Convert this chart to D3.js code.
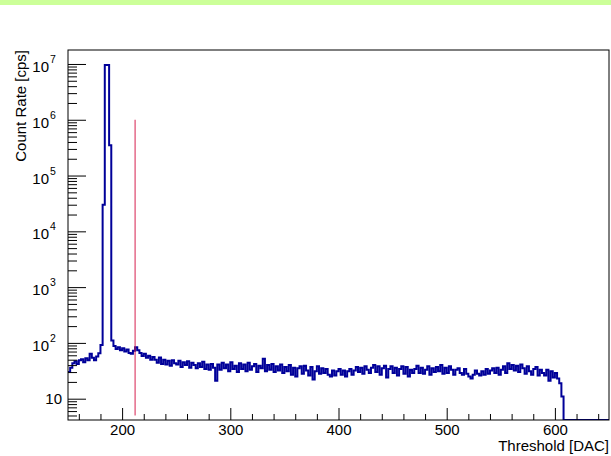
<!DOCTYPE html>
<html>
<head>
<meta charset="utf-8">
<script src="https://cdn.jsdelivr.net/npm/d3@7"></script>
<style>
  body { margin: 0; background: #fff; }
  svg { display: block; font-family: "Liberation Sans", Arial, sans-serif; }
</style>
</head>
<body>
<svg id="chart" width="611" height="456"></svg>
<script>
// threshold scan, bins of 2 DAC starting at 150
var binLow = 150;
var binWidth = 2;
var counts = [
  30, 36, 43, 47, 42, 49, 51, 45, 53, 49, 64, 54, 49, 57, 65, 92,
  30000, 9600000, 9600000, 350000, 110,
  88, 78, 84, 74, 80, 70, 76, 66, 64, 72, 84, 74, 66, 58, 64, 54, 59, 50, 56,
  50, 44, 55, 42, 50, 41, 48, 39, 49, 43,
  41, 48, 37, 45, 40, 47, 36, 44, 40, 35,
  43, 37, 46, 34, 41, 33, 42, 36, 21, 41,
  33, 44, 35, 41, 31, 45, 34, 39, 30, 43,
  34, 41, 31, 44, 33, 38, 42, 30, 39, 35,
  52, 31, 40, 33, 42, 30, 38, 32, 41, 29,
  37, 31, 40, 27, 36, 25, 35, 38, 28, 39,
  32, 26, 37, 22, 31, 38, 28, 35, 29, 34,
  27, 25, 32, 26, 31, 34, 27, 32, 25, 31,
  34, 27, 32, 37, 30, 36, 28, 38, 33, 29,
  36, 40, 30, 38, 27, 35, 39, 24, 34, 38,
  29, 36, 26, 34, 38, 28, 37, 25, 33, 29,
  34, 39, 29, 36, 28, 33, 38, 27, 35, 30,
  37, 31, 40, 28, 36, 29, 38, 33, 27, 33,
  35, 29, 27, 34, 28, 25, 23, 27, 32, 28,
  26, 31, 27, 34, 28, 32, 35, 29, 36, 27,
  33, 38, 29, 43, 34, 40, 32, 39, 30, 41,
  35, 28, 38, 31, 27, 34, 37, 26, 33, 29,
  26, 33, 21, 31, 24, 29, 23, 19, 11, 0,
  0, 0, 0, 0, 0, 0, 0, 0, 0, 0,
  0, 0, 0, 0, 0, 0, 0, 0, 0, 0
];
var thresholdCut = 212;        // red marker
var cutRange = [5, 1e6];
var xMajor = [200, 300, 400, 500, 600];
var yMajor = [10, 100, 1e3, 1e4, 1e5, 1e6, 1e7];
var yExp = ["", "2", "3", "4", "5", "6", "7"];
var xTitle = "Threshold [DAC]";
var yTitle = "Count Rate [cps]";

var svg = d3.select("#chart");
var padL = 68, padR = 609, padT = 50, padB = 420;

svg.append("rect").attr("x", 0).attr("y", 0).attr("width", 611).attr("height", 5)
    .attr("fill", "#ccff99");

var x = d3.scaleLinear().domain([150, 650]).range([padL, padR]);
var y = d3.scaleLog().domain([4.15, 1.78e7]).range([padB, padT]);
var yMin = y.domain()[0];

svg.append("clipPath").attr("id", "frameClip")
  .append("rect").attr("x", padL).attr("y", padT)
    .attr("width", padR - padL).attr("height", padB - padT);

// histogram as steps
var pts = counts.map(function(c, i) { return [binLow + i * binWidth, c]; });
pts.push([binLow + counts.length * binWidth, counts[counts.length - 1]]);
var step = d3.line()
    .x(function(d) { return x(d[0]); })
    .y(function(d) { return d[1] > yMin ? y(d[1]) : padB; })
    .curve(d3.curveStepAfter);

svg.append("path")
    .attr("d", step(pts))
    .attr("clip-path", "url(#frameClip)")
    .attr("fill", "none")
    .attr("stroke", "#000099")
    .attr("stroke-width", 2)
    .attr("stroke-linejoin", "miter");

svg.append("line")
    .attr("x1", x(thresholdCut)).attr("x2", x(thresholdCut))
    .attr("y1", y(cutRange[0])).attr("y2", y(cutRange[1]))
    .attr("stroke", "#d6204f").attr("stroke-width", 1);

// x axis ticks (inside)
var xMinor = d3.range(160, 650, 20).filter(function(v) { return xMajor.indexOf(v) < 0; });
var gx = svg.append("g").attr("transform", "translate(0," + padB + ")");
gx.append("g").call(d3.axisBottom(x).tickValues(xMinor).tickSize(-6).tickFormat(""));
gx.append("g").call(d3.axisBottom(x).tickValues(xMajor).tickSize(-12).tickFormat(d3.format("d")));
gx.selectAll(".domain").remove();
gx.selectAll(".tick line").attr("stroke", "#000");
gx.selectAll("text").attr("y", 4).attr("dy", "0.71em")
    .style("font-size", "15px").attr("fill", "#000");

// y axis ticks (inside)
var yMinorVals = [];
[1, 10, 100, 1e3, 1e4, 1e5, 1e6, 1e7].forEach(function(dec) {
  for (var k = 2; k <= 9; k++) {
    var v = dec * k;
    if (v >= y.domain()[0] && v <= y.domain()[1]) yMinorVals.push(v);
  }
});
var gy = svg.append("g").attr("transform", "translate(" + padL + ",0)");
gy.append("g").call(d3.axisLeft(y).tickValues(yMinorVals).tickSize(-9).tickFormat(""));
gy.append("g").call(d3.axisLeft(y).tickValues(yMajor).tickSize(-18).tickFormat(""));
gy.selectAll(".domain").remove();
gy.selectAll(".tick line").attr("stroke", "#000");

yMajor.forEach(function(v, i) {
  var ty = y(v);
  if (yExp[i] === "") {
    svg.append("text").attr("x", 62).attr("y", ty + 5.5)
      .attr("text-anchor", "end").style("font-size", "15px").text("10");
  } else {
    svg.append("text").attr("x", 49).attr("y", ty + 8)
      .attr("text-anchor", "end").style("font-size", "15px").text("10");
    svg.append("text").attr("x", 50).attr("y", ty - 1)
      .attr("text-anchor", "start").style("font-size", "10.5px").text(yExp[i]);
  }
});

// frame
svg.append("rect")
    .attr("x", padL).attr("y", padT)
    .attr("width", padR - padL).attr("height", padB - padT)
    .attr("fill", "none").attr("stroke", "#000").attr("stroke-width", 1);

svg.append("text")
    .attr("x", padR).attr("y", 451)
    .attr("text-anchor", "end").style("font-size", "15px")
    .text(xTitle);

svg.append("text")
    .attr("transform", "translate(26," + padT + ") rotate(-90)")
    .attr("text-anchor", "end").style("font-size", "15px")
    .text(yTitle);
</script>
</body>
</html>
